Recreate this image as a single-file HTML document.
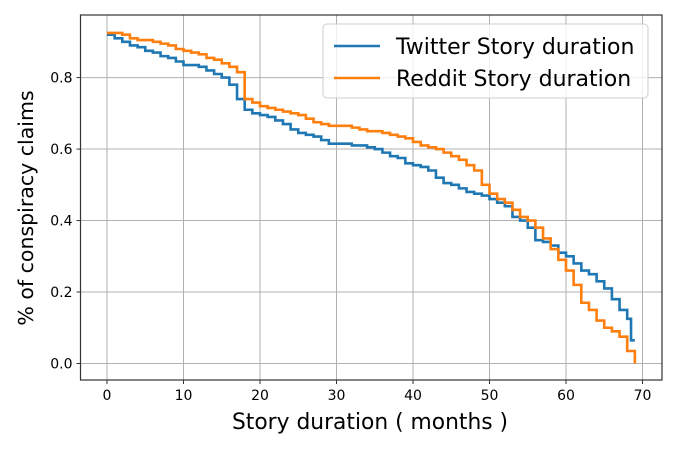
<!DOCTYPE html>
<html><head><meta charset="utf-8"><style>
html,body{margin:0;padding:0;background:#fff;}
svg{display:block;font-family:"DejaVu Sans","Liberation Sans",sans-serif;}
</style></head><body>
<svg id="chart" width="677" height="452" viewBox="0 0 677 452" xmlns="http://www.w3.org/2000/svg"></svg>
<script>
const xTicks=[0,10,20,30,40,50,60,70];
const yTicks=[0.0,0.2,0.4,0.6,0.8];
const yTickLabels=["0.0","0.2","0.4","0.6","0.8"];
const twitterMonths=[0,1,2,3,4,5,6,7,8,9,10,11,12,13,14,15,16,17,18,19,20,21,22,23,24,25,26,27,28,29,30,31,32,33,34,35,36,37,38,39,40,41,42,43,44,45,46,47,48,49,50,51,52,53,54,55,56,57,58,59,60,61,62,63,64,65,66,67,68,68.5,69];
const twitterValues=[0.92,0.91,0.90,0.89,0.885,0.875,0.87,0.86,0.855,0.845,0.835,0.835,0.83,0.82,0.81,0.80,0.78,0.74,0.71,0.70,0.695,0.69,0.68,0.67,0.655,0.645,0.64,0.635,0.625,0.615,0.615,0.615,0.61,0.61,0.605,0.60,0.59,0.58,0.575,0.56,0.555,0.55,0.54,0.52,0.505,0.50,0.49,0.48,0.475,0.47,0.46,0.45,0.44,0.41,0.40,0.38,0.345,0.34,0.33,0.31,0.30,0.28,0.26,0.25,0.23,0.21,0.18,0.15,0.125,0.065,0.065];
const redditMonths=[0,1,2,3,4,5,6,7,8,9,10,11,12,13,14,15,16,17,18,19,20,21,22,23,24,25,26,27,28,29,30,31,32,33,34,35,36,37,38,39,40,41,42,43,44,45,46,47,48,49,50,51,52,53,54,55,56,57,58,59,60,61,62,63,64,65,66,67,68,69,69];
const redditValues=[0.925,0.925,0.92,0.91,0.905,0.905,0.90,0.895,0.89,0.88,0.875,0.87,0.865,0.855,0.85,0.84,0.83,0.815,0.74,0.73,0.72,0.715,0.71,0.705,0.70,0.695,0.685,0.675,0.67,0.665,0.665,0.665,0.66,0.655,0.65,0.65,0.645,0.64,0.635,0.63,0.62,0.61,0.605,0.60,0.59,0.58,0.57,0.555,0.54,0.50,0.475,0.46,0.45,0.43,0.41,0.40,0.38,0.35,0.32,0.29,0.26,0.22,0.17,0.15,0.12,0.10,0.09,0.075,0.035,0.035,0.0];
const svg=document.getElementById('chart');
const NS='http://www.w3.org/2000/svg';
const L=80.5,R=662,T=15,B=380;
function xS(m){return 107+7.65*m;}
function yS(v){return 363.5-357.4*v;}
function mk(tag,attrs,parent){const e=document.createElementNS(NS,tag);for(const k in attrs)e.setAttribute(k,attrs[k]);(parent||svg).appendChild(e);return e;}
xTicks.forEach(t=>{const g=mk('line',{x1:xS(t),x2:xS(t),y1:T,y2:B,stroke:'#b0b0b0','stroke-width':1});


const tk=mk('line',{x1:xS(t),x2:xS(t),y1:B,y2:B+4,stroke:'#333','stroke-width':1});


const tx=mk('text',{x:xS(t),y:B+20,'text-anchor':'middle','font-size':14,fill:'#000'});tx.textContent=t;


});
yTicks.forEach((t,i)=>{const g=mk('line',{x1:L,x2:R,y1:yS(t),y2:yS(t),stroke:'#b0b0b0','stroke-width':1});


const tk=mk('line',{x1:L-4,x2:L,y1:yS(t),y2:yS(t),stroke:'#333','stroke-width':1});


const tx=mk('text',{x:L-8,y:yS(t)+5,'text-anchor':'end','font-size':14,fill:'#000'});tx.textContent=yTickLabels[i];


});
function stepPath(ms,vs){let d='M'+xS(ms[0])+','+yS(vs[0]);for(let i=1;i<ms.length;i++){d+=' H'+xS(ms[i])+' V'+yS(vs[i]);}return d;}
const p1=mk('path',{d:stepPath(twitterMonths,twitterValues),fill:'none',stroke:'#1f77b4','stroke-width':2.6});


const p2=mk('path',{d:stepPath(redditMonths,redditValues),fill:'none',stroke:'#ff7f0e','stroke-width':2.6});


const fr=mk('rect',{x:L,y:T,width:R-L,height:B-T,fill:'none',stroke:'#333','stroke-width':1.2});


const lg=mk('g',{});


mk('rect',{x:323,y:24,width:325,height:74,rx:4,fill:'#fff','fill-opacity':0.8,stroke:'#ccc','stroke-width':1},lg);
mk('line',{x1:334,x2:380,y1:46,y2:46,stroke:'#1f77b4','stroke-width':2.6},lg);
const lt1=mk('text',{x:396,y:54,'font-size':22,fill:'#000'},lg);lt1.textContent='Twitter Story duration';


mk('line',{x1:334,x2:380,y1:78,y2:78,stroke:'#ff7f0e','stroke-width':2.6},lg);
const lt2=mk('text',{x:396,y:86,'font-size':22,fill:'#000'},lg);lt2.textContent='Reddit Story duration';


const xl=mk('text',{x:370,y:429,'text-anchor':'middle','font-size':21.8,fill:'#000'});xl.textContent='Story duration ( months )';


const yl=mk('text',{x:0,y:0,'text-anchor':'middle','font-size':20.5,fill:'#000',transform:'translate(33,208) rotate(-90)'});yl.textContent='% of conspiracy claims';


</script>
</body></html>
